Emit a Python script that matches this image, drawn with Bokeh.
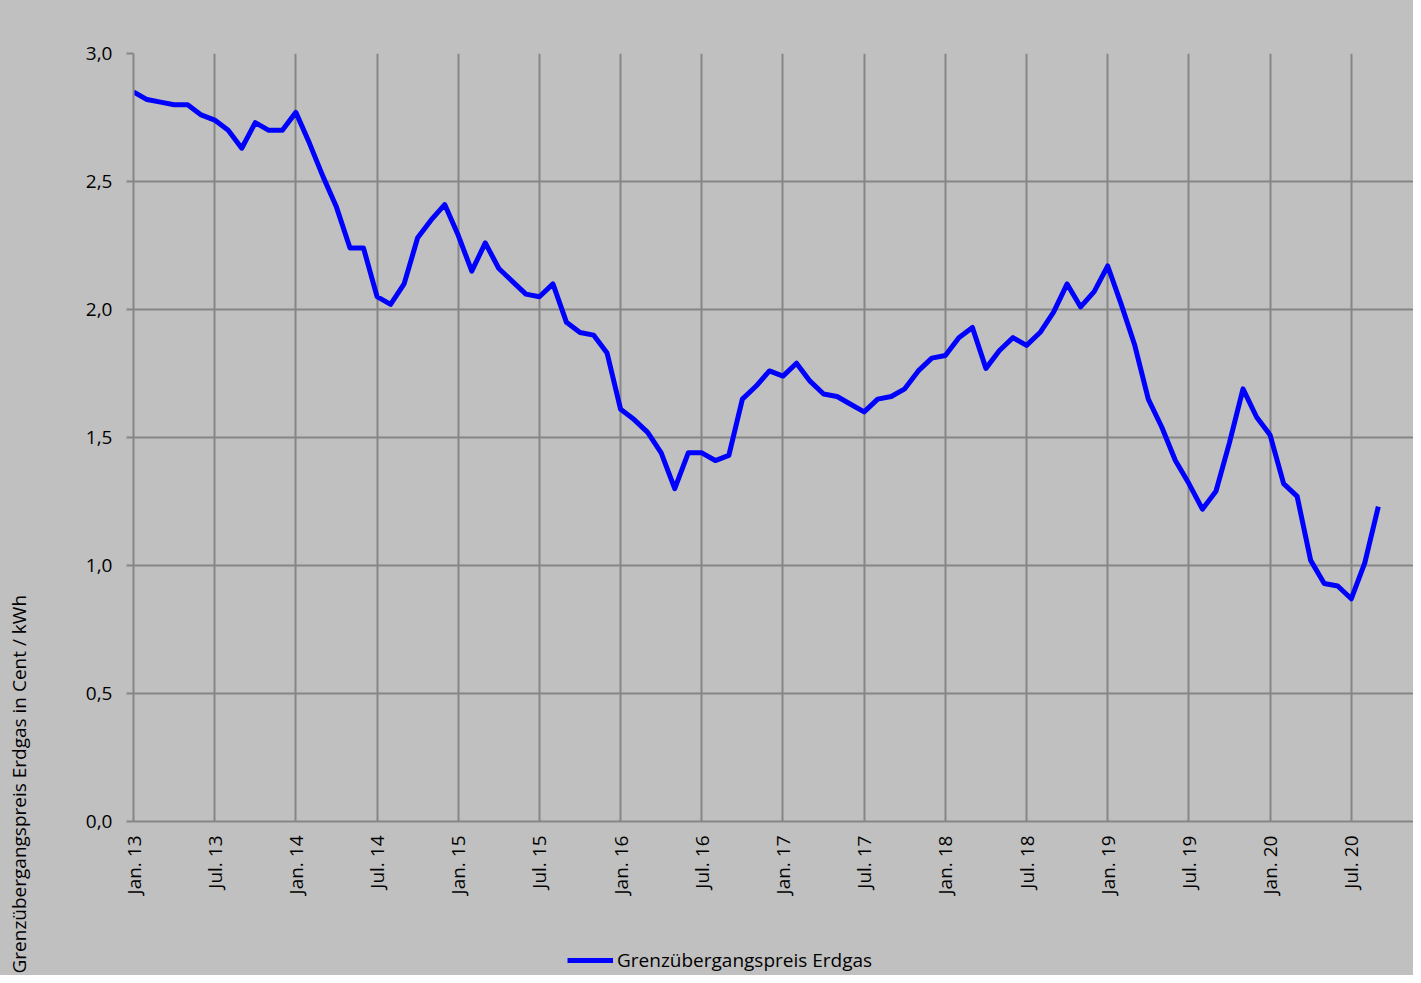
import math
from bokeh.plotting import figure
from bokeh.layouts import row, column
from bokeh.models import (Range1d, FixedTicker, Label, Legend, LegendItem)
from bokeh.embed import file_html
from bokeh.resources import INLINE

# ---- data (monthly, Jan 2013 - Sep 2020), Cent / kWh ----
v2013 = [2.85, 2.82, 2.81, 2.80, 2.80, 2.76, 2.74, 2.70, 2.63, 2.73, 2.70, 2.70]
v2014 = [2.77, 2.65, 2.52, 2.40, 2.24, 2.24, 2.05, 2.02, 2.10, 2.28, 2.35, 2.41]
v2015 = [2.29, 2.15, 2.26, 2.16, 2.11, 2.06, 2.05, 2.10, 1.95, 1.91, 1.90, 1.83]
v2016 = [1.61, 1.57, 1.52, 1.44, 1.30, 1.44, 1.44, 1.41, 1.43, 1.65, 1.70, 1.76]
v2017 = [1.74, 1.79, 1.72, 1.67, 1.66, 1.63, 1.60, 1.65, 1.66, 1.69, 1.76, 1.81]
v2018 = [1.82, 1.89, 1.93, 1.77, 1.84, 1.89, 1.86, 1.91, 1.99, 2.10, 2.01, 2.07]
v2019 = [2.17, 2.02, 1.86, 1.65, 1.54, 1.41, 1.32, 1.22, 1.29, 1.48, 1.69, 1.58]
v2020 = [1.51, 1.32, 1.27, 1.02, 0.93, 0.92, 0.87, 1.01, 1.23]

series_name = "Grenzübergangspreis Erdgas"
y_title = "Grenzübergangspreis Erdgas in Cent / kWh"

tick_labels = ["Jan. 13", "Jul. 13", "Jan. 14", "Jul. 14", "Jan. 15", "Jul. 15",
               "Jan. 16", "Jul. 16", "Jan. 17", "Jul. 17", "Jan. 18", "Jul. 18",
               "Jan. 19", "Jul. 19", "Jan. 20", "Jul. 20"]
y_ticks = [0.0, 0.5, 1.0, 1.5, 2.0, 2.5, 3.0]
y_tick_labels = ["0,0", "0,5", "1,0", "1,5", "2,0", "2,5", "3,0"]

values = v2013 + v2014 + v2015 + v2016 + v2017 + v2018 + v2019 + v2020
months = list(range(len(values)))
x_tick_pos = [6 * i for i in range(len(tick_labels))]

# ---- styling ----
BG = "#c0c0c0"
GRID = "#868686"
BLUE = "#0000ff"
FONT = "Open Sans"
FS = "19px"

TOTAL_W, TOTAL_H = 1413, 975
SIDE_W = 40
MAIN_W = TOTAL_W - SIDE_W
LEG_H = 45
MAIN_H = TOTAL_H - LEG_H


def plain(fig):
    fig.background_fill_color = BG
    fig.border_fill_color = BG
    fig.outline_line_color = None
    fig.frame_align = False
    fig.styles = {"background-color": BG}
    return fig


# narrow strip carrying the rotated y-axis title
side = plain(figure(width=SIDE_W, height=TOTAL_H, output_backend="svg",
                    toolbar_location=None, x_range=Range1d(0, SIDE_W),
                    y_range=Range1d(0, TOTAL_H), min_border=0,
                    x_axis_type=None, y_axis_type=None))
side.grid.visible = False
side.add_layout(Label(x=18, y=2, text=y_title, angle=math.pi / 2,
                      text_align="left", text_baseline="middle",
                      text_font=FONT, text_font_size=FS, text_color="#000000"))

# main chart
p = plain(figure(width=MAIN_W, height=MAIN_H, output_backend="svg",
                 toolbar_location=None, x_range=Range1d(0, 94.6),
                 y_range=Range1d(0, 3.0)))
p.min_border_left = 133 - SIDE_W
p.min_border_right = 0
p.min_border_top = 53
p.min_border_bottom = MAIN_H - 821

p.xaxis.ticker = FixedTicker(ticks=x_tick_pos)
p.xaxis.major_label_overrides = {pos: lab for pos, lab in zip(x_tick_pos, tick_labels)}
p.xaxis.major_label_orientation = math.pi / 2
p.xaxis.major_tick_out = 0
p.xaxis.major_tick_in = 0
p.xaxis.minor_tick_line_color = None
p.xaxis.major_label_standoff = 14
p.xaxis.axis_line_color = GRID
p.xaxis.axis_line_width = 2

p.yaxis.ticker = FixedTicker(ticks=y_ticks)
p.yaxis.major_label_overrides = {t: lab for t, lab in zip(y_ticks, y_tick_labels)}
p.yaxis.major_tick_out = 7
p.yaxis.major_tick_in = 0
p.yaxis.major_tick_line_color = GRID
p.yaxis.major_tick_line_width = 2
p.yaxis.minor_tick_line_color = None
p.yaxis.major_label_standoff = 14
p.yaxis.axis_line_color = GRID
p.yaxis.axis_line_width = 2

for ax in (p.xaxis, p.yaxis):
    ax.major_label_text_font = FONT
    ax.major_label_text_font_size = FS
    ax.major_label_text_color = "#000000"

p.xgrid.ticker = FixedTicker(ticks=x_tick_pos)
p.ygrid.ticker = FixedTicker(ticks=y_ticks)
for g in (p.xgrid, p.ygrid):
    g.grid_line_color = GRID
    g.grid_line_width = 2

p.line(months, values, line_color=BLUE, line_width=5, line_join="round")

# strip below the chart carrying the legend; the series is drawn there too but
# kept outside that strip's visible range so that only the legend swatch shows
leg = plain(figure(width=MAIN_W, height=LEG_H, output_backend="svg",
                   toolbar_location=None, x_range=Range1d(0, 1),
                   y_range=Range1d(100, 101), min_border=0,
                   x_axis_type=None, y_axis_type=None))
leg.grid.visible = False
proxy = leg.line(months, values, line_color=BLUE, line_width=5)
legend = Legend(items=[LegendItem(label=series_name, renderers=[proxy])],
                location=(567 - SIDE_W, 2), orientation="horizontal",
                glyph_width=46, glyph_height=20, label_standoff=4,
                padding=0, margin=0, spacing=0,
                background_fill_alpha=0, border_line_alpha=0,
                label_text_font=FONT, label_text_font_size=FS,
                label_text_color="#000000")
leg.add_layout(legend, "center")

col = column(p, leg, spacing=0)
col.styles = {"background-color": BG}
layout = row(side, col, spacing=0)
layout.styles = {"background-color": BG}

open("out.html", "w").write(file_html(layout, INLINE))
